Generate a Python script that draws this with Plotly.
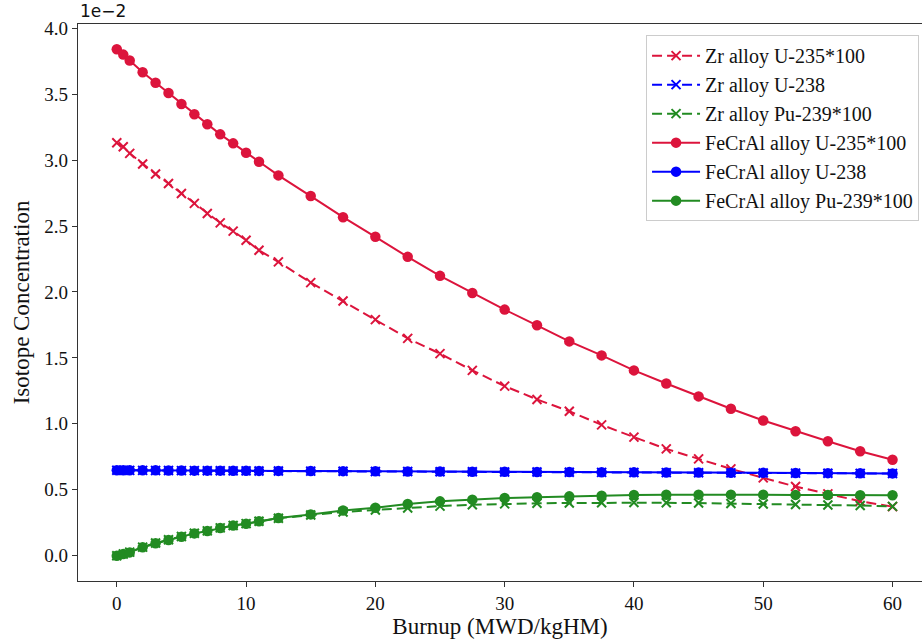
import plotly.graph_objects as go

burnup = [0, 0.5, 1, 2, 3, 4, 5, 6, 7, 8, 9, 10, 11, 12.5, 15, 17.5, 20, 22.5, 25, 27.5,
          30, 32.5, 35, 37.5, 40, 42.5, 45, 47.5, 50, 52.5, 55, 57.5, 60]

zr_u235 = [3.131, 3.101, 3.051, 2.970, 2.894, 2.823, 2.747, 2.672, 2.595, 2.524, 2.461,
           2.392, 2.316, 2.228, 2.071, 1.931, 1.790, 1.648, 1.532, 1.405, 1.286, 1.185,
           1.095, 0.992, 0.899, 0.810, 0.734, 0.658, 0.590, 0.524, 0.469, 0.413, 0.372]
zr_u238 = [0.648, 0.648, 0.647, 0.647, 0.646, 0.646, 0.645, 0.645, 0.644, 0.644, 0.643,
           0.643, 0.642, 0.642, 0.641, 0.640, 0.639, 0.638, 0.637, 0.636, 0.635, 0.634,
           0.633, 0.632, 0.631, 0.630, 0.629, 0.628, 0.627, 0.626, 0.625, 0.624, 0.623]
zr_pu239 = [0.0, 0.013, 0.027, 0.065, 0.096, 0.121, 0.146, 0.170, 0.188, 0.211, 0.229,
            0.243, 0.261, 0.284, 0.308, 0.331, 0.347, 0.362, 0.376, 0.386, 0.393, 0.397,
            0.400, 0.402, 0.403, 0.401, 0.399, 0.396, 0.392, 0.388, 0.384, 0.380, 0.374]
fe_u235 = [3.840, 3.800, 3.755, 3.666, 3.587, 3.509, 3.425, 3.347, 3.272, 3.195, 3.127,
           3.056, 2.987, 2.884, 2.727, 2.567, 2.418, 2.266, 2.122, 1.992, 1.866, 1.747,
           1.625, 1.519, 1.405, 1.306, 1.208, 1.114, 1.025, 0.944, 0.868, 0.792, 0.727]
fe_u238 = [0.648, 0.648, 0.648, 0.647, 0.647, 0.646, 0.646, 0.645, 0.645, 0.645, 0.644,
           0.644, 0.643, 0.643, 0.642, 0.641, 0.640, 0.639, 0.638, 0.637, 0.636, 0.635,
           0.634, 0.633, 0.632, 0.631, 0.630, 0.629, 0.628, 0.627, 0.626, 0.625, 0.624]
fe_pu239 = [0.0, 0.013, 0.025, 0.063, 0.094, 0.119, 0.144, 0.169, 0.187, 0.210, 0.228,
            0.242, 0.261, 0.286, 0.313, 0.342, 0.363, 0.392, 0.412, 0.425, 0.437, 0.444,
            0.450, 0.455, 0.460, 0.462, 0.463, 0.463, 0.462, 0.461, 0.460, 0.459, 0.458]

names = ["Zr alloy U-235*100", "Zr alloy U-238", "Zr alloy Pu-239*100",
         "FeCrAl alloy U-235*100", "FeCrAl alloy U-238", "FeCrAl alloy Pu-239*100"]
series = [zr_u235, zr_u238, zr_pu239, fe_u235, fe_u238, fe_pu239]
colors = ["#DC143C", "#0000FF", "#228B22", "#DC143C", "#0000FF", "#228B22"]

SERIF = "Liberation Serif, Times New Roman, serif"

fig = go.Figure()
for i, (nm, ys, c) in enumerate(zip(names, series, colors)):
    dashed = i < 3
    fig.add_trace(go.Scatter(
        x=burnup, y=ys, name=nm, mode="lines+markers", legendgroup=f"g{i}",
        line=dict(color=c, width=2, dash="10px,5px" if dashed else "solid"),
        marker=dict(symbol="x-thin-open" if dashed else "circle", size=9 if dashed else 10.5,
                    color=c, line=dict(color=c, width=2 if dashed else 0)),
    ))

axis_common = dict(showline=True, linecolor="#333333", linewidth=1.3, mirror=False,
                   ticks="outside", ticklen=5, tickwidth=1.3, tickcolor="#333333",
                   showgrid=False, zeroline=False,
                   tickfont=dict(family=SERIF, size=19, color="#111111"))

fig.update_layout(
    width=922, height=642,
    margin=dict(l=78, r=0, t=24, b=61),
    paper_bgcolor="white", plot_bgcolor="white",
    xaxis=dict(range=[-3, 62.28], tickvals=[0, 10, 20, 30, 40, 50, 60],
               title=dict(text="Burnup (MWD/kgHM)", font=dict(family=SERIF, size=23, color="#111111"),
                          standoff=4),
               **{**axis_common, "mirror": True}),
    yaxis=dict(range=[-0.192, 4.032], tickvals=[0, 0.5, 1, 1.5, 2, 2.5, 3, 3.5, 4],
               ticktext=["0.0", "0.5", "1.0", "1.5", "2.0", "2.5", "3.0", "3.5", "4.0"],
               title=dict(text="Isotope Concentration", font=dict(family=SERIF, size=23, color="#111111"),
                          standoff=8),
               **axis_common),
    legend=dict(x=0.9965, y=0.98, xanchor="right", yanchor="top",
                bgcolor="rgba(255,255,255,0.85)", bordercolor="#cccccc", borderwidth=1,
                font=dict(family=SERIF, size=20, color="#111111"),
                tracegroupgap=0, itemwidth=48),
    showlegend=True,
)

fig.add_annotation(text="1e\u22122", xref="paper", yref="paper", x=0, y=1, xanchor="left",
                   yanchor="bottom", showarrow=False, yshift=1,
                   font=dict(family="DejaVu Sans", size=17, color="#111111"))

fig.write_html("out.html")
